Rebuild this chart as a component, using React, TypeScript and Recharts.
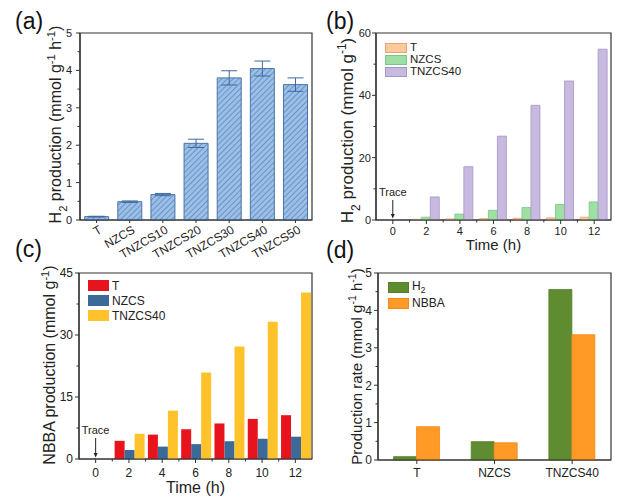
import React from "react";
import { BarChart, Bar, XAxis, YAxis, ErrorBar, Legend, ReferenceArea, ReferenceDot, Label } from "recharts";

const FONT = '"Liberation Sans", Arial, Helvetica, sans-serif';
const AXIS = "#333";
const TXT = "#222";

// (a) H2 production rate per sample
const samples = ["T", "NZCS", "TNZCS10", "TNZCS20", "TNZCS30", "TNZCS40", "TNZCS50"];
const h2Rate = [0.09, 0.49, 0.68, 2.05, 3.8, 4.05, 3.62];
const h2RateErr = [0.01, 0.02, 0.03, 0.11, 0.19, 0.2, 0.18];
const ticksA = [0, 0.5, 1, 1.5, 2, 2.5, 3, 3.5, 4, 4.5, 5];

// (b) H2 production vs time
const hours = ["0", "2", "4", "6", "8", "10", "12"];
const h2T = [0, 0.2, 0.35, 0.45, 0.55, 0.7, 0.9];
const h2NZCS = [0, 0.9, 1.9, 3.1, 4.0, 5.0, 5.8];
const h2TNZCS40 = [0, 7.4, 17.1, 26.9, 36.8, 44.6, 54.8];
const ticksB = [0, 10, 20, 30, 40, 50, 60];

// (c) NBBA production vs time
const nbbaT = [0, 4.4, 5.9, 7.2, 8.6, 9.7, 10.6];
const nbbaNZCS = [0, 2.2, 3.0, 3.6, 4.3, 4.9, 5.4];
const nbbaTNZCS40 = [0, 6.1, 11.7, 20.9, 27.2, 33.2, 40.3];
const ticksC = [0, 7.5, 15, 22.5, 30, 37.5, 45];

// (d) production rates
const rateSamples = ["T", "NZCS", "TNZCS40"];
const rateH2 = [0.09, 0.49, 4.56];
const rateNBBA = [0.89, 0.46, 3.35];
const ticksD = [0, 0.5, 1, 1.5, 2, 2.5, 3, 3.5, 4, 4.5, 5];

const seriesB = [
  { key: "T", fill: "#FFC99E", stroke: "#E6A477" },
  { key: "NZCS", fill: "#9EE0A4", stroke: "#7DC484" },
  { key: "TNZCS40", fill: "#C7B9DF", stroke: "#A395C6" },
];
const seriesC = [
  { key: "T", fill: "#E8141D", stroke: "#E8141D" },
  { key: "NZCS", fill: "#3B6A98", stroke: "#3B6A98" },
  { key: "TNZCS40", fill: "#FFC22A", stroke: "#FFC22A" },
];
const seriesD = [
  { key: "H2", fill: "#5F8C30", stroke: "#557F2A" },
  { key: "NBBA", fill: "#FF9A26", stroke: "#F08A18" },
];

const dataA = samples.map((s, i) => ({ name: s, value: h2Rate[i], err: h2RateErr[i] }));
const dataB = hours.map((h, i) => ({ t: h, T: h2T[i], NZCS: h2NZCS[i], TNZCS40: h2TNZCS40[i] }));
const dataC = hours.map((h, i) => ({ t: h, T: nbbaT[i], NZCS: nbbaNZCS[i], TNZCS40: nbbaTNZCS40[i] }));
const dataD = rateSamples.map((s, i) => ({ name: s, H2: rateH2[i], NBBA: rateNBBA[i] }));

const Sub = ({ c }: { c: string }) => (
  <tspan baselineShift="sub" fontSize="0.7em">{c}</tspan>
);
const Sup = ({ c }: { c: string }) => (
  <tspan baselineShift="super" fontSize="0.7em">{c}</tspan>
);

const makeYTick = (fontSize: number, gap: number, every: number) => (props: any) => {
  const { x, y, payload } = props;
  const ax = x + gap;
  const r = payload.value / every;
  const major = Math.abs(r - Math.round(r)) < 1e-6;
  return (
    <g>
      <line x1={ax} x2={ax - (major ? 4 : 2.5)} y1={y} y2={y} stroke={AXIS} strokeWidth={1} />
      {major && (
        <text x={x} y={y} dy="0.36em" textAnchor="end" fontSize={fontSize} fontFamily={FONT} fill={TXT}>
          {payload.value}
        </text>
      )}
    </g>
  );
};

const makeXTick = (fontSize: number, gap: number, band: number, count: number, minor: boolean) => (props: any) => {
  const { x, y, payload, index } = props;
  const ay = y - gap;
  return (
    <g>
      <line x1={x} x2={x} y1={ay} y2={ay + 4} stroke={AXIS} strokeWidth={1} />
      {minor && index < count - 1 && (
        <line x1={x + band / 2} x2={x + band / 2} y1={ay} y2={ay + 2.5} stroke={AXIS} strokeWidth={1} />
      )}
      <text x={x} y={y} dy="0.71em" textAnchor="middle" fontSize={fontSize} fontFamily={FONT} fill={TXT}>
        {payload.value}
      </text>
    </g>
  );
};

const RotTick = (props: any) => {
  const { x, y, payload } = props;
  const ay = y - 6;
  const tx = x + 3;
  const ty = ay + 7;
  return (
    <g>
      <line x1={x} x2={x} y1={ay} y2={ay + 3} stroke={AXIS} strokeWidth={1} />
      <text
        x={tx}
        y={ty}
        dy="0.5em"
        textAnchor="end"
        transform={`rotate(-30 ${tx} ${ty})`}
        fontSize={12}
        fontFamily={FONT}
        fill={TXT}
      >
        {payload.value}
      </text>
    </g>
  );
};

const yTitle = (parts: React.ReactNode, dx: number, fontSize: number, dyc = 0) => (props: any) => {
  const vb = props.viewBox;
  const cx = vb.x + vb.width - dx;
  const cy = vb.y + vb.height / 2 + dyc;
  return (
    <text
      x={cx}
      y={cy}
      dy="0.36em"
      transform={`rotate(-90 ${cx} ${cy})`}
      textAnchor="middle"
      fontSize={fontSize}
      fontFamily={FONT}
      fill={TXT}
    >
      {parts}
    </text>
  );
};

const xTitle = (text: string, off: number, fontSize: number) => (props: any) => {
  const vb = props.viewBox;
  return (
    <text x={vb.x + vb.width / 2} y={vb.y + off} textAnchor="middle" fontSize={fontSize} fontFamily={FONT} fill={TXT}>
      {text}
    </text>
  );
};

const traceMark = (fontSize: number, len: number) => (props: any) => {
  const { cx, cy } = props;
  return (
    <g>
      <text x={cx} y={cy - len - 4} textAnchor="middle" fontSize={fontSize} fontFamily={FONT} fill={TXT}>
        Trace
      </text>
      <line x1={cx} x2={cx} y1={cy - len} y2={cy - 5} stroke="#222" strokeWidth={1} />
      <path d={`M${cx - 2},${cy - 6} L${cx + 2},${cy - 6} L${cx},${cy - 1.5} Z`} fill="#222" />
    </g>
  );
};

const legendLabel = (k: string) => (k === "H2" ? <span>H<sub style={{ fontSize: "0.7em" }}>2</sub></span> : k);

const makeLegend = (series: { key: string; fill: string; stroke: string }[], sw: number, sh: number, row: number, fontSize: number) => () => (
  <div style={{ fontFamily: FONT, fontSize, color: TXT, lineHeight: 1 }}>
    {series.map((s) => (
      <div key={s.key} style={{ display: "flex", alignItems: "center", height: row }}>
        <span
          style={{
            display: "inline-block",
            width: sw,
            height: sh,
            background: s.fill,
            border: `1px solid ${s.stroke}`,
            boxSizing: "border-box",
            marginRight: 3,
          }}
        />
        <span>{legendLabel(s.key)}</span>
      </div>
    ))}
  </div>
);

const axisLine = { stroke: AXIS, strokeWidth: 1.2 };

const letterStyle = (left: number, top: number): React.CSSProperties => ({
  position: "absolute",
  left,
  top,
  fontSize: 23,
  lineHeight: "23px",
  fontFamily: FONT,
  color: "#111",
});

const App: React.FC = () => {
  return (
    <div style={{ position: "absolute", left: 0, top: 0, width: 641, height: 502, background: "#fff", overflow: "hidden" }}>
      {/* (a) */}
      <div style={{ position: "absolute", left: 0, top: 0 }}>
        <BarChart width={320} height={262} data={dataA} margin={{ top: 33, right: 8, bottom: 0, left: 0 }} barCategoryGap="14%">
          <defs>
            <pattern id="hatchA" patternUnits="userSpaceOnUse" width={4} height={4} patternTransform="rotate(45)">
              <rect width={4} height={4} fill="#9BBFE6" />
              <line x1={0} y1={0} x2={0} y2={4} stroke="#4F7DB6" strokeWidth={1.3} />
            </pattern>
          </defs>
          <XAxis dataKey="name" height={42} interval={0} tick={RotTick} tickLine={false} tickSize={4} tickMargin={2} axisLine={axisLine} />
          <YAxis
            width={80}
            domain={[0, 5]}
            ticks={ticksA}
            interval={0}
            tick={makeYTick(11, 8, 1)}
            tickLine={false}
            tickSize={4}
            tickMargin={4}
            axisLine={axisLine}
          >
            <Label
              content={yTitle(
                <>
                  H<Sub c="2" /> production (mmol g<Sup c="-1" /> h<Sup c="-1" />)
                </>,
                25,
                16,
                -2
              )}
            />
          </YAxis>
          <ReferenceArea y1={0} y2={5} fill="none" stroke={AXIS} strokeWidth={1.2} />
          <Bar dataKey="value" fill="url(#hatchA)" stroke="#4A74A8" strokeWidth={1} isAnimationActive={false}>
            <ErrorBar dataKey="err" width={8} stroke="#3E6A9F" strokeWidth={1} direction="y" />
          </Bar>
        </BarChart>
      </div>

      {/* (b) */}
      <div style={{ position: "absolute", left: 320, top: 0 }}>
        <BarChart width={321} height={256} data={dataB} margin={{ top: 33, right: 30, bottom: 0, left: 0 }} barCategoryGap="8%" barGap={0}>
          <XAxis
            dataKey="t"
            height={36}
            interval={0}
            tick={makeXTick(11, 7, 235 / 7, 7, true)}
            tickLine={false}
            tickSize={4}
            tickMargin={3}
            axisLine={axisLine}
          >
            <Label content={xTitle("Time (h)", 30, 15)} />
          </XAxis>
          <YAxis
            width={56}
            domain={[0, 60]}
            ticks={ticksB}
            interval={0}
            tick={makeYTick(11, 5, 20)}
            tickLine={false}
            tickSize={3}
            tickMargin={2}
            axisLine={axisLine}
          >
            <Label
              content={yTitle(
                <>
                  H<Sub c="2" /> production (mmol g<Sup c="-1" />)
                </>,
                29,
                17,
                4
              )}
            />
          </YAxis>
          <ReferenceArea y1={0} y2={60} fill="none" stroke={AXIS} strokeWidth={1.2} />
          {seriesB.map((s) => (
            <Bar key={s.key} dataKey={s.key} name={s.key} fill={s.fill} stroke={s.stroke} strokeWidth={0.8} isAnimationActive={false} />
          ))}
          <ReferenceDot x="0" y={0} shape={traceMark(11, 20)} ifOverflow="visible" />
          <Legend
            layout="vertical"
            align="center"
            verticalAlign="middle"
            wrapperStyle={{ left: 65, top: 42, width: "auto" }}
            content={makeLegend(seriesB, 22, 10, 12, 11.5)}
          />
        </BarChart>
      </div>

      {/* (c) */}
      <div style={{ position: "absolute", left: 0, top: 250 }}>
        <BarChart width={320} height={252} data={dataC} margin={{ top: 23, right: 8, bottom: 0, left: 0 }} barCategoryGap="7%" barGap={0}>
          <XAxis
            dataKey="t"
            height={43}
            interval={0}
            tick={makeXTick(12, 9, 233 / 7, 7, true)}
            tickLine={false}
            tickSize={4}
            tickMargin={5}
            axisLine={axisLine}
          >
            <Label content={xTitle("Time (h)", 34, 16)} />
          </XAxis>
          <YAxis
            width={79}
            domain={[0, 45]}
            ticks={ticksC}
            interval={0}
            tick={makeYTick(12, 6, 15)}
            tickLine={false}
            tickSize={4}
            tickMargin={2}
            axisLine={axisLine}
          >
            <Label
              content={yTitle(
                <>
                  NBBA production (mmol g<Sup c="-1" />)
                </>,
                30,
                16,
                -1
              )}
            />
          </YAxis>
          <ReferenceArea y1={0} y2={45} fill="none" stroke={AXIS} strokeWidth={1.2} />
          {seriesC.map((s) => (
            <Bar key={s.key} dataKey={s.key} name={s.key} fill={s.fill} isAnimationActive={false} />
          ))}
          <ReferenceDot x="0" y={0} shape={traceMark(11, 21)} ifOverflow="visible" />
          <Legend
            layout="vertical"
            align="center"
            verticalAlign="middle"
            wrapperStyle={{ left: 88, top: 28, width: "auto" }}
            content={makeLegend(seriesC, 21, 11, 15, 12)}
          />
        </BarChart>
      </div>

      {/* (d) */}
      <div style={{ position: "absolute", left: 320, top: 250 }}>
        <BarChart width={321} height={252} data={dataD} margin={{ top: 23, right: 30, bottom: 0, left: 0 }} barCategoryGap="20%" barGap={0}>
          <XAxis
            dataKey="name"
            height={42}
            interval={0}
            tick={makeXTick(12, 8, 233 / 3, 3, false)}
            tickLine={false}
            tickSize={4}
            tickMargin={4}
            axisLine={axisLine}
          />
          <YAxis
            width={58}
            domain={[0, 5]}
            ticks={ticksD}
            interval={0}
            tick={makeYTick(12, 6, 1)}
            tickLine={false}
            tickSize={4}
            tickMargin={2}
            axisLine={axisLine}
          >
            <Label
              content={yTitle(
                <>
                  Production rate (mmol g<Sup c="-1" /> h<Sup c="-1" />)
                </>,
                21,
                15,
                0
              )}
            />
          </YAxis>
          <ReferenceArea y1={0} y2={5} fill="none" stroke={AXIS} strokeWidth={1.2} />
          {seriesD.map((s) => (
            <Bar key={s.key} dataKey={s.key} name={s.key} fill={s.fill} stroke={s.stroke} strokeWidth={0.8} isAnimationActive={false} />
          ))}
          <Legend
            layout="vertical"
            align="center"
            verticalAlign="middle"
            wrapperStyle={{ left: 68, top: 29, width: "auto" }}
            content={makeLegend(seriesD, 21, 11, 16, 12)}
          />
        </BarChart>
      </div>

      <div style={letterStyle(15, 10)}>(a)</div>
      <div style={letterStyle(326, 10)}>(b)</div>
      <div style={letterStyle(15, 238)}>(c)</div>
      <div style={letterStyle(326, 239)}>(d)</div>
    </div>
  );
};

export default App;
